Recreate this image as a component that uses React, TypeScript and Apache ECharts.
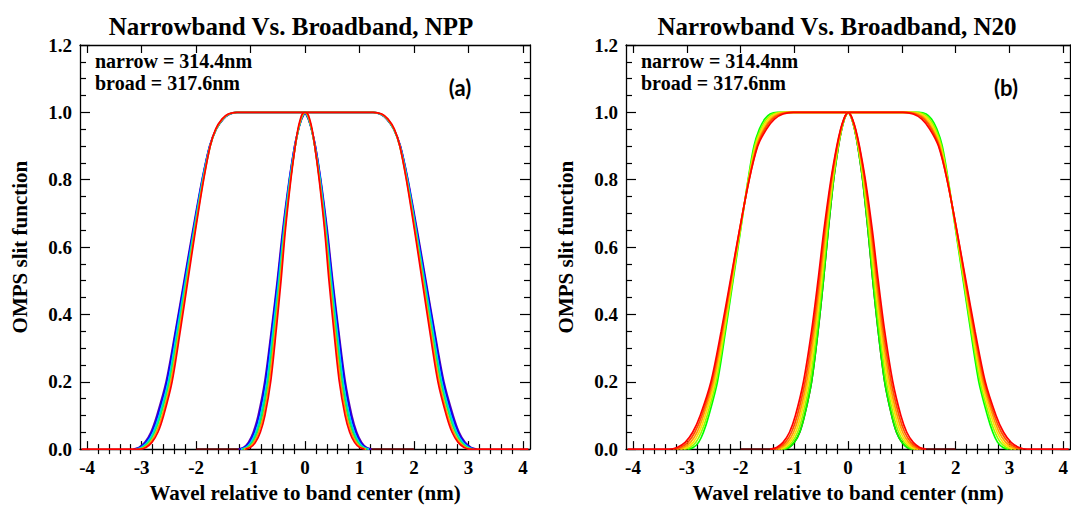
import React, { useEffect, useRef } from 'react';
import * as echarts from 'echarts';

// ---- data ----
// y levels at which the half-widths (nm from band centre) are read
const LEVELS = [0, 0.005, 0.02, 0.05, 0.1, 0.2, 0.35, 0.5, 0.65, 0.8, 0.9, 0.95, 0.98, 0.995, 1.0];

// NPP panel (a): middle curve half-widths
const NPP_BROAD_BASE = [3.08, 2.98, 2.87, 2.76, 2.65, 2.49, 2.33, 2.18, 2.03, 1.87, 1.74, 1.63, 1.51, 1.39, 1.25];
const NPP_NARROW_BASE = [1.15, 1.06, 0.97, 0.88, 0.79, 0.68, 0.57, 0.47, 0.38, 0.27, 0.18, 0.12, 0.07, 0.03, 0];
const NPP_COLORS = ['#5a00b4', '#0000ff', '#00c8ff', '#00ff66', '#ffa000', '#ff0000'];
const NPP_OFF_PURPLE = [0.07, 0.07, 0.07, 0.07, 0.07, 0.06, 0.05, 0.04, 0.03, 0.02, 0.01, 0.0, -0.01, -0.01, 0];
const NPP_OFF_BLUE = [0.05, 0.05, 0.05, 0.05, 0.05, 0.045, 0.04, 0.03, 0.02, 0.015, 0.01, 0.0, -0.005, -0.01, 0];
const NPP_OFF_CYAN = [0.025, 0.025, 0.025, 0.025, 0.025, 0.02, 0.02, 0.015, 0.01, 0.01, 0.005, 0, 0, 0, 0];
const NPP_OFF_GREEN = [0, 0, 0, 0, 0, 0, 0, 0, 0, 0, 0, 0, 0, 0, 0];
const NPP_OFF_ORANGE = [-0.03, -0.03, -0.03, -0.03, -0.03, -0.025, -0.02, -0.015, -0.01, -0.005, 0, 0.005, 0.005, 0.01, 0];
const NPP_OFF_RED = [-0.06, -0.06, -0.06, -0.06, -0.055, -0.05, -0.04, -0.03, -0.02, -0.01, 0, 0.01, 0.015, 0.02, 0];

// N20 panel (b): green curve half-widths
const N20_BROAD_BASE = [2.98, 2.88, 2.78, 2.69, 2.59, 2.43, 2.28, 2.14, 2.0, 1.86, 1.75, 1.65, 1.55, 1.45, 1.32];
const N20_NARROW_BASE = [1.2, 1.1, 1.0, 0.9, 0.81, 0.68, 0.56, 0.46, 0.37, 0.27, 0.18, 0.12, 0.07, 0.03, 0];
const N20_COLORS = ['#00ff00', '#90ff00', '#ffe000', '#ffa000', '#ff5000', '#ff0000'];
const N20_BROAD_OFF_GREEN = [0, 0, 0, 0, 0, 0, 0, 0, 0, 0, 0, 0, 0, 0, 0];
const N20_BROAD_OFF_LIME = [0.07, 0.06, 0.05, 0.04, 0.03, 0.025, 0.015, 0.01, 0.005, -0.005, -0.015, -0.025, -0.035, -0.05, -0.06];
const N20_BROAD_OFF_YELLOW = [0.14, 0.12, 0.1, 0.08, 0.065, 0.05, 0.03, 0.02, 0.01, -0.01, -0.03, -0.05, -0.07, -0.1, -0.12];
const N20_BROAD_OFF_ORANGE = [0.21, 0.18, 0.15, 0.12, 0.1, 0.075, 0.05, 0.03, 0.015, -0.015, -0.045, -0.08, -0.11, -0.15, -0.18];
const N20_BROAD_OFF_ORANGERED = [0.28, 0.24, 0.2, 0.16, 0.13, 0.1, 0.065, 0.04, 0.02, -0.02, -0.06, -0.1, -0.14, -0.2, -0.24];
const N20_BROAD_OFF_RED = [0.35, 0.3, 0.25, 0.2, 0.16, 0.12, 0.08, 0.05, 0.02, -0.02, -0.07, -0.13, -0.18, -0.24, -0.3];
const N20_NARROW_OFF_GREEN = [0, 0, 0, 0, 0, 0, 0, 0, 0, 0, 0, 0, 0, 0, 0];
const N20_NARROW_OFF_LIME = [0.05, 0.046, 0.042, 0.038, 0.034, 0.03, 0.024, 0.02, 0.016, 0.01, 0.006, 0.004, 0.002, 0.001, 0];
const N20_NARROW_OFF_YELLOW = [0.1, 0.092, 0.084, 0.076, 0.068, 0.06, 0.048, 0.04, 0.032, 0.02, 0.012, 0.008, 0.004, 0.002, 0];
const N20_NARROW_OFF_ORANGE = [0.15, 0.138, 0.126, 0.114, 0.102, 0.09, 0.072, 0.06, 0.048, 0.03, 0.018, 0.012, 0.006, 0.003, 0];
const N20_NARROW_OFF_ORANGERED = [0.2, 0.184, 0.168, 0.152, 0.136, 0.12, 0.096, 0.08, 0.064, 0.04, 0.024, 0.016, 0.008, 0.004, 0];
const N20_NARROW_OFF_RED = [0.25, 0.23, 0.21, 0.19, 0.17, 0.15, 0.12, 0.1, 0.08, 0.05, 0.03, 0.02, 0.01, 0.005, 0];

const BROAD_BASELINE_END = 4.1; // red baseline extent
const NARROW_BASELINE_END = 2.0; // dark baseline extent

const X_TICKS = [-4, -3, -2, -1, 0, 1, 2, 3, 4];
const X_MINOR_STEPS = [0.2, 0.4, 0.6, 0.8];

const TITLES = ['Narrowband Vs. Broadband, NPP', 'Narrowband Vs. Broadband, N20'];
const PANEL_TAGS = ['(a)', '(b)'];
const NOTE_NARROW = 'narrow = 314.4nm';
const NOTE_BROAD = 'broad = 317.6nm';
const X_NAME = 'Wavel relative to band center (nm)';
const Y_NAME = 'OMPS slit function';

const PANELS = [
  {
    colors: NPP_COLORS,
    broadBase: NPP_BROAD_BASE,
    narrowBase: NPP_NARROW_BASE,
    broadOff: [NPP_OFF_PURPLE, NPP_OFF_BLUE, NPP_OFF_CYAN, NPP_OFF_GREEN, NPP_OFF_ORANGE, NPP_OFF_RED],
    narrowOff: [NPP_OFF_PURPLE, NPP_OFF_BLUE, NPP_OFF_CYAN, NPP_OFF_GREEN, NPP_OFF_ORANGE, NPP_OFF_RED],
  },
  {
    colors: N20_COLORS,
    broadBase: N20_BROAD_BASE,
    narrowBase: N20_NARROW_BASE,
    broadOff: [N20_BROAD_OFF_GREEN, N20_BROAD_OFF_LIME, N20_BROAD_OFF_YELLOW, N20_BROAD_OFF_ORANGE, N20_BROAD_OFF_ORANGERED, N20_BROAD_OFF_RED],
    narrowOff: [N20_NARROW_OFF_GREEN, N20_NARROW_OFF_LIME, N20_NARROW_OFF_YELLOW, N20_NARROW_OFF_ORANGE, N20_NARROW_OFF_ORANGERED, N20_NARROW_OFF_RED],
  },
];

// ---- layout ----
const GRID_LEFTS = [80, 626];
const GRID_TOP = 45;
const GRID_W = 450;
const GRID_H = 407;
const X_MIN = -4.13;
const X_MAX = 4.13;

const SERIF = 'Liberation Serif';

function curve(base: number[], off: number[]): number[][] {
  const left = LEVELS.map((y, i) => [-(base[i] + off[i]), y]);
  const right = LEVELS.map((y, i) => [base[i] + off[i], y]).reverse();
  return [...left, ...right.slice(base[base.length - 1] === 0 ? 1 : 0)];
}

function buildOption() {
  const xMinor: number[] = [];
  X_TICKS.slice(0, -1).forEach((t) => X_MINOR_STEPS.forEach((s) => xMinor.push(+(t + s).toFixed(2))));

  const grid: any[] = [];
  const xAxis: any[] = [];
  const yAxis: any[] = [];
  const series: any[] = [];
  const graphic: any[] = [];

  const axLine = { show: true, onZero: false, lineStyle: { color: '#000', width: 1.3 } };
  const tickLine = { color: '#000', width: 1.2 };
  const labelFont = { color: '#000', fontFamily: SERIF, fontWeight: 'bold', fontSize: 19 };
  const nameFont = { color: '#000', fontFamily: SERIF, fontWeight: 'bold', fontSize: 21 };

  const lineCommon = {
    type: 'line', showSymbol: false, symbol: 'none', clip: false, silent: true, smooth: 0.3,
  };

  PANELS.forEach((p, g) => {
    grid.push({ left: GRID_LEFTS[g], top: GRID_TOP, width: GRID_W, height: GRID_H, containLabel: false });
    const xc = { type: 'value', gridIndex: g, min: X_MIN, max: X_MAX, splitLine: { show: false } };
    xAxis.push({
      ...xc,
      position: 'bottom',
      axisLine: axLine,
      axisTick: { show: true, inside: true, length: 8, customValues: X_TICKS, lineStyle: tickLine },
      axisLabel: { show: true, customValues: X_TICKS, margin: 9, formatter: (v: number) => String(v), ...labelFont },
      name: X_NAME,
      nameLocation: 'middle',
      nameGap: 30,
      nameTextStyle: nameFont,
    });
    xAxis.push({
      ...xc,
      position: 'bottom',
      axisLine: { show: false },
      axisTick: { show: true, inside: true, length: 5, customValues: xMinor, lineStyle: tickLine },
      axisLabel: { show: false },
    });
    xAxis.push({
      ...xc,
      position: 'top',
      axisLine: axLine,
      axisTick: { show: true, inside: true, length: 8, customValues: X_TICKS, lineStyle: tickLine },
      axisLabel: { show: false },
    });
    xAxis.push({
      ...xc,
      position: 'top',
      axisLine: { show: false },
      axisTick: { show: true, inside: true, length: 5, customValues: xMinor, lineStyle: tickLine },
      axisLabel: { show: false },
    });
    const yc = {
      type: 'value', gridIndex: g, min: 0, max: 1.2, interval: 0.2,
      splitLine: { show: false }, minorSplitLine: { show: false },
      axisLine: axLine,
      axisTick: { show: true, inside: true, length: 10, lineStyle: tickLine },
      minorTick: { show: true, splitNumber: 4, length: 6, lineStyle: tickLine },
    };
    yAxis.push({
      ...yc,
      position: 'left',
      axisLabel: { show: true, margin: 8, formatter: (v: number) => v.toFixed(1), ...labelFont },
      name: Y_NAME,
      nameLocation: 'middle',
      nameRotate: 90,
      nameGap: 50,
      nameTextStyle: nameFont,
    });
    yAxis.push({ ...yc, position: 'right', axisLabel: { show: false } });

    const xi = g * 4;
    const yi = g * 2;
    const last = p.colors.length - 1;
    p.colors.forEach((c, k) => {
      let data = curve(p.broadBase, p.broadOff[k]);
      if (k === last) data = [[-BROAD_BASELINE_END, 0], ...data, [BROAD_BASELINE_END, 0]];
      series.push({ ...lineCommon, xAxisIndex: xi, yAxisIndex: yi, data, lineStyle: { color: c, width: 1.7 } });
    });
    series.push({
      ...lineCommon, xAxisIndex: xi, yAxisIndex: yi,
      data: [[-NARROW_BASELINE_END, 0], ...curve(p.narrowBase, p.narrowOff[0].map(() => 0)), [NARROW_BASELINE_END, 0]],
      lineStyle: { color: '#5a0000', width: 1.7 },
    });
    p.colors.forEach((c, k) => {
      series.push({
        ...lineCommon, xAxisIndex: xi, yAxisIndex: yi, data: curve(p.narrowBase, p.narrowOff[k]),
        lineStyle: { color: c, width: 1.7 },
      });
    });

    const gl = GRID_LEFTS[g];
    const txt = (text: string, x: number, y: number, family: string, size: number, align: string) => ({
      type: 'text', x, y,
      style: {
        text, fontFamily: family, fontSize: size, fontWeight: 'bold', fill: '#000',
        align, verticalAlign: 'middle', textAlign: align, textVerticalAlign: 'middle',
      },
    });
    graphic.push(txt(TITLES[g], gl + 211, 26, SERIF, 25, 'center'));
    graphic.push(txt(NOTE_NARROW, gl + 15, 61, SERIF, 20, 'left'));
    graphic.push(txt(NOTE_BROAD, gl + 15, 83, SERIF, 20, 'left'));
    graphic.push(txt(PANEL_TAGS[g], gl + 380, 87, 'Lato', 22, 'center'));
  });

  return { animation: false, backgroundColor: '#fff', grid, xAxis, yAxis, series, graphic };
}

export default function App() {
  const ref = useRef<HTMLDivElement>(null);
  useEffect(() => {
    if (!ref.current) return;
    const chart = echarts.init(ref.current, undefined, { renderer: 'svg' });
    chart.setOption(buildOption() as any);
    return () => chart.dispose();
  }, []);
  return <div ref={ref} style={{ position: 'fixed', left: 0, top: 0, width: 1071, height: 508, background: '#fff' }} />;
}
